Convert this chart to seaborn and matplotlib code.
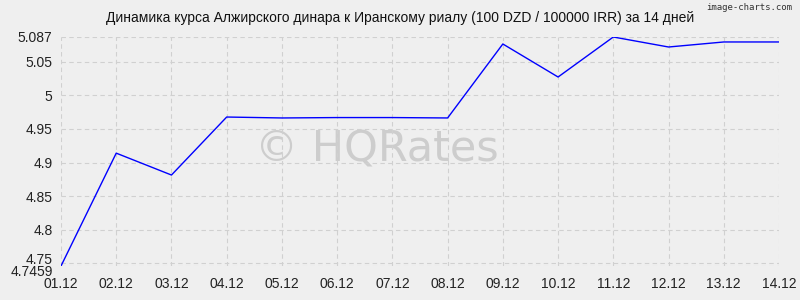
import matplotlib
matplotlib.use("Agg")
import matplotlib.pyplot as plt
from matplotlib.transforms import ScaledTranslation
import seaborn as sns
import pandas as pd

dates = ["01.12", "02.12", "03.12", "04.12", "05.12", "06.12", "07.12",
         "08.12", "09.12", "10.12", "11.12", "12.12", "13.12", "14.12"]
rates = [4.7459, 4.914, 4.8814, 4.9678, 4.9664, 4.967, 4.967,
         4.9664, 5.0766, 5.0274, 5.087, 5.0721, 5.0796, 5.0796]
ytick_vals = [4.7459, 4.75, 4.8, 4.85, 4.9, 4.95, 5.0, 5.05, 5.087]
ytick_labels = ["4.7459", "4.75", "4.8", "4.85", "4.9", "4.95", "5", "5.05", "5.087"]
title = "Динамика курса Алжирского динара к Иранскому риалу (100 DZD / 100000 IRR) за 14 дней"

sns.set_theme(style="white")
plt.rcParams['font.family'] = ['Liberation Sans', 'DejaVu Sans']

df = pd.DataFrame({"x": range(len(dates)), "rate": rates})

fig = plt.figure(figsize=(8, 3), dpi=100, facecolor="#efefef")
ax = fig.add_axes([61/800, 1-266/300, (779-61)/800, (266-37)/300])
ax.set_facecolor("#efefef")

ax.text(0.44, 0.51, "© HQRates", transform=ax.transAxes, ha="center", va="center",
        fontsize=31, color="#cdcdcd", zorder=0, family="DejaVu Sans")

sns.lineplot(data=df, x="x", y="rate", ax=ax, color="#0000ff", linewidth=1, zorder=3)

ax.set_xlim(0, len(dates)-1)
ax.set_ylim(min(rates), max(rates))
ax.set_xticks(range(len(dates)))
ax.set_xticklabels(dates)
ax.set_yticks(ytick_vals)
ax.set_yticklabels(ytick_labels)
ax.set_xlabel("")
ax.set_ylabel("")
ax.grid(True, color="#d0d0d0", linestyle=(0, (4, 3)), linewidth=0.8)
ax.set_axisbelow(True)
for s in ax.spines.values():
    s.set_visible(False)
ax.tick_params(axis="both", labelsize=10, colors="#222222", length=0, pad=6)
ax.tick_params(axis="x", pad=8)

# nudge the two overlapping bottom labels apart slightly
ylabels = ax.get_yticklabels()
ylabels[0].set_transform(ylabels[0].get_transform() + ScaledTranslation(0, -5/100, fig.dpi_scale_trans))
ylabels[1].set_transform(ylabels[1].get_transform() + ScaledTranslation(0, 5/100, fig.dpi_scale_trans))

fig.text(0.5, 1-18/300, title, ha="center", va="center", fontsize=10, color="#111111")
fig.text(0.99, 1-8/300, "image-charts.com", ha="right", va="center", fontsize=6.5,
         color="#333333", family="DejaVu Sans Mono")

fig.savefig("out.png", dpi=100, facecolor=fig.get_facecolor())
